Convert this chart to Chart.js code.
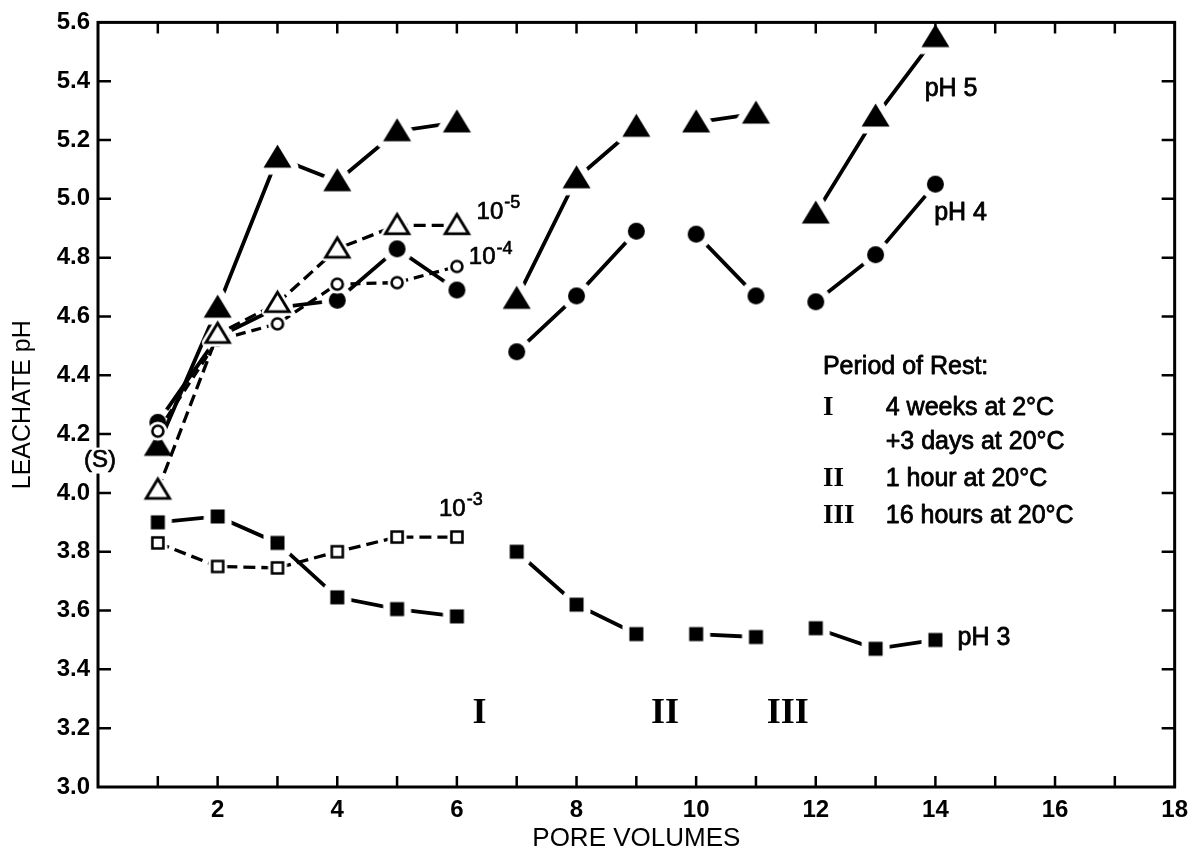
<!DOCTYPE html>
<html>
<head>
<meta charset="utf-8">
<script src="https://cdn.jsdelivr.net/npm/chart.js@4.4.1/dist/chart.umd.min.js"></script>
<style>
  html, body { margin: 0; padding: 0; background: #fff; }
  #wrap { width: 1197px; height: 857px; }
</style>
</head>
<body>
<div id="wrap"><canvas id="leachChart"></canvas></div>
<script>
// pore volumes for the long runs and the short 10^-x runs
const poreVolumes = [1, 2, 3, 4, 5, 6, 7, 8, 9, 10, 11, 12, 13, 14];
const shortVolumes = [1, 2, 3, 4, 5, 6];

// leachate pH
const pH5 = [4.16, 4.63, 5.14, 5.06, 5.23, 5.26, 4.66, 5.07, 5.245, 5.26, 5.29, 4.95, 5.28, 5.55];
const pH4 = [4.24, 4.53, 4.63, 4.655, 4.83, 4.69, 4.48, 4.67, 4.89, 4.88, 4.67, 4.65, 4.81, 5.05];
const pH3 = [3.90, 3.92, 3.83, 3.645, 3.605, 3.58, 3.80, 3.62, 3.52, 3.52, 3.51, 3.54, 3.47, 3.50];
const conc1e5 = [4.01, 4.54, 4.645, 4.83, 4.91, 4.91];
const conc1e4 = [4.21, 4.52, 4.575, 4.71, 4.715, 4.77];
const conc1e3 = [3.83, 3.75, 3.745, 3.80, 3.85, 3.85];

// lines are interrupted after these pore volumes (rest periods I, II, III)
const restBreaks = [6, 9, 11];

const restPeriods = [
  ['I', '4 weeks at 2°C'],
  ['', '+3 days at 20°C'],
  ['II', '1 hour at 20°C'],
  ['III', '16 hours at 20°C']
];

const sans = "'Liberation Sans', Arial, Helvetica, sans-serif";
const serif = "'Liberation Serif', 'Times New Roman', serif";

// marker drawn with a white halo so the lines stop short of it
function makeMarker(shape, filled, size, halo, lw) {
  const c = document.createElement('canvas');
  const dim = Math.ceil(size * 1.3 + 2 * (halo + lw));
  c.width = dim; c.height = dim;
  const g = c.getContext('2d');
  const m = dim / 2, r = size / 2;
  function path() {
    g.beginPath();
    if (shape === 'triangle') {
      g.moveTo(m, m - r * 1.05);
      g.lineTo(m + r * 1.12, m + r * 0.8);
      g.lineTo(m - r * 1.12, m + r * 0.8);
      g.closePath();
    } else if (shape === 'circle') {
      g.arc(m, m, r, 0, Math.PI * 2);
    } else {
      g.rect(m - r, m - r, size, size);
    }
  }
  path();
  g.lineJoin = 'round';
  g.strokeStyle = '#fff'; g.lineWidth = 2 * halo; g.stroke();
  g.fillStyle = '#fff'; g.fill();
  path();
  g.fillStyle = filled ? '#000' : '#fff';
  g.fill();
  if (!filled) {
    g.lineJoin = 'miter';
    g.strokeStyle = '#000'; g.lineWidth = lw; g.stroke();
  }
  return c;
}

function series(label, xs, ys, marker, dash, width) {
  return {
    label: label,
    data: xs.map((x, i) => ({ x: x, y: ys[i] })),
    borderColor: '#000',
    borderWidth: width,
    borderDash: dash,
    pointStyle: marker,
    pointRadius: 6,
    tension: 0,
    fill: false,
    segment: {
      borderColor: ctx => restBreaks.includes(ctx.p0.parsed.x) ? 'rgba(0,0,0,0)' : '#000'
    }
  };
}

const datasets = [
  series('10-5', shortVolumes, conc1e5, makeMarker('triangle', false, 21, 4, 2.8), [12, 6], 3.3),
  series('10-4', shortVolumes, conc1e4, makeMarker('circle', false, 11, 4, 2.6), [10, 6], 3.3),
  series('10-3', shortVolumes, conc1e3, makeMarker('square', false, 11, 4, 2.6), [12, 6], 3.3),
  series('pH 5', poreVolumes, pH5, makeMarker('triangle', true, 25, 7, 0), [], 3.8),
  series('pH 4', poreVolumes, pH4, makeMarker('circle', true, 17, 7, 0), [], 3.8),
  series('pH 3', poreVolumes, pH3, makeMarker('square', true, 14, 7, 0), [], 3.8)
];

// slightly heavier text, closer to the printed figure
function heavyText(ctx, text, x, y, w) {
  ctx.lineWidth = w;
  ctx.strokeText(text, x, y);
  ctx.fillText(text, x, y);
}

const frameAndNotes = {
  id: 'frameAndNotes',
  afterDraw(chart) {
    const { ctx, chartArea: a } = chart;
    const xs = chart.scales.x, ys = chart.scales.y;
    const px = v => xs.getPixelForValue(v);
    const py = v => ys.getPixelForValue(v);
    ctx.save();

    // box and inward ticks on all four sides
    ctx.strokeStyle = '#000';
    ctx.lineWidth = 3;
    ctx.strokeRect(a.left, a.top, a.right - a.left, a.bottom - a.top);
    ctx.lineWidth = 2.5;
    ctx.beginPath();
    xs.ticks.forEach(t => {
      if (t.value <= xs.min || t.value >= xs.max) return;
      const x = px(t.value);
      ctx.moveTo(x, a.bottom); ctx.lineTo(x, a.bottom - 11);
      ctx.moveTo(x, a.top); ctx.lineTo(x, a.top + 11);
    });
    ys.ticks.forEach(t => {
      if (t.value <= ys.min + 1e-6 || t.value >= ys.max - 1e-6) return;
      const y = py(t.value);
      ctx.moveTo(a.left, y); ctx.lineTo(a.left + 13, y);
      ctx.moveTo(a.right, y); ctx.lineTo(a.right - 13, y);
    });
    ctx.stroke();

    ctx.fillStyle = '#000';
    ctx.strokeStyle = '#000';
    ctx.textBaseline = 'middle';
    ctx.lineJoin = 'round';

    // (S) sits on the y axis
    ctx.font = '24px ' + sans;
    ctx.textAlign = 'center';
    const sy = py(4.11);
    ctx.save();
    ctx.fillStyle = '#fff';
    ctx.fillRect(a.left - 8, sy - 13, 16, 26);
    ctx.restore();
    heavyText(ctx, '(S)', a.left + 2, sy, 0.7);

    // series labels
    ctx.textAlign = 'left';
    function power(x, y, exp) {
      ctx.font = '24px ' + sans;
      heavyText(ctx, '10', px(x), py(y), 0.7);
      const w = ctx.measureText('10').width;
      ctx.font = '18px ' + sans;
      heavyText(ctx, exp, px(x) + w + 1, py(y) - 9, 0.6);
    }
    power(6.33, 4.955, '-5');
    power(6.2, 4.80, '-4');
    power(5.70, 3.945, '-3');
    ctx.font = '25px ' + sans;
    heavyText(ctx, 'pH 5', px(13.82), py(5.374), 0.8);
    heavyText(ctx, 'pH 4', px(13.98), py(4.95), 0.8);
    heavyText(ctx, 'pH 3', px(14.37), py(3.507), 0.8);

    // rest period markers
    ctx.textAlign = 'center';
    ctx.font = 'bold 36px ' + serif;
    ctx.fillText('I', px(6.38), py(3.25));
    ctx.fillText('II', px(9.48), py(3.25));
    ctx.fillText('III', px(11.53), py(3.25));

    // key
    ctx.textAlign = 'left';
    ctx.font = '25px ' + sans;
    heavyText(ctx, 'Period of Rest:', px(12.12), py(4.428), 0.8);
    const rows = [4.29, 4.172, 4.047, 3.922];
    restPeriods.forEach((r, i) => {
      ctx.font = 'bold 27px ' + serif;
      ctx.fillText(r[0], px(12.12), py(rows[i]));
      ctx.font = '25px ' + sans;
      heavyText(ctx, r[1], px(13.17), py(rows[i]), 0.8);
    });
    ctx.restore();
  }
};

new Chart(document.getElementById('leachChart'), {
  type: 'line',
  data: { datasets: datasets },
  plugins: [frameAndNotes],
  options: {
    responsive: true,
    maintainAspectRatio: false,
    animation: false,
    events: [],
    layout: { padding: { top: 17, right: 19, bottom: 0, left: 0 } },
    plugins: {
      legend: { display: false },
      tooltip: { enabled: false }
    },
    scales: {
      x: {
        type: 'linear',
        min: 0,
        max: 18,
        afterFit: scale => { scale.height = 70; },
        border: { display: false },
        grid: { display: false, drawTicks: false },
        ticks: {
          stepSize: 1,
          autoSkip: false,
          maxRotation: 0,
          padding: 9,
          color: '#000',
          font: { family: sans, size: 24, weight: 'bold' },
          callback: v => (v > 0 && v % 2 === 0) ? String(v) : ''
        },
        title: {
          display: true,
          text: 'PORE VOLUMES',
          color: '#000',
          font: { family: sans, size: 26 },
          padding: { top: 0, bottom: 3 }
        }
      },
      y: {
        min: 3.0,
        max: 5.6,
        afterFit: scale => { scale.width = 98; },
        border: { display: false },
        grid: { display: false, drawTicks: false },
        ticks: {
          stepSize: 0.2,
          padding: 8,
          color: '#000',
          font: { family: sans, size: 24, weight: 'bold' },
          callback: v => v.toFixed(1)
        },
        title: {
          display: true,
          text: 'LEACHATE pH',
          color: '#000',
          font: { family: sans, size: 25 },
          padding: { top: 8, bottom: 0 }
        }
      }
    }
  }
});
</script>
</body>
</html>
